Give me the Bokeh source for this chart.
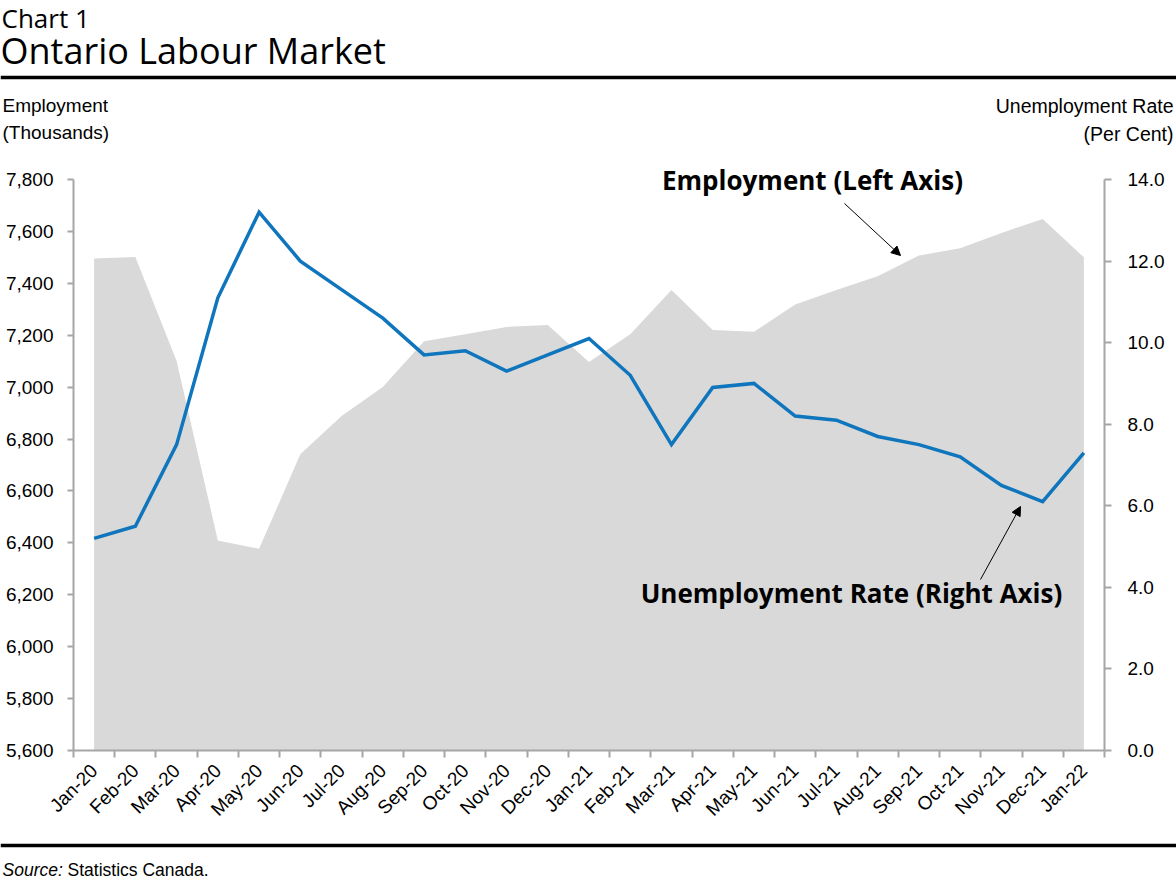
import math
from bokeh.plotting import figure
from bokeh.layouts import column
from bokeh.models import (Range1d, LinearAxis, FixedTicker, NumeralTickFormatter,
                          Label, Arrow, NormalHead, ColumnDataSource, Span)
from bokeh.embed import file_html
from bokeh.resources import INLINE

# ---------------- data ----------------
months = ["Jan-20", "Feb-20", "Mar-20", "Apr-20", "May-20", "Jun-20", "Jul-20",
          "Aug-20", "Sep-20", "Oct-20", "Nov-20", "Dec-20", "Jan-21", "Feb-21",
          "Mar-21", "Apr-21", "May-21", "Jun-21", "Jul-21", "Aug-21", "Sep-21",
          "Oct-21", "Nov-21", "Dec-21", "Jan-22"]
employment = [7496, 7501, 7101, 6409, 6377, 6741, 6889, 7001, 7177, 7204, 7232,
              7239, 7097, 7204, 7374, 7220, 7213, 7318, 7374, 7427, 7507, 7535,
              7594, 7648, 7500]
unemployment_rate = [5.2, 5.5, 7.5, 11.1, 13.2, 12.0, 11.3, 10.6, 9.7, 9.8, 9.3,
                     9.7, 10.1, 9.2, 7.5, 8.9, 9.0, 8.2, 8.1, 7.7, 7.5, 7.2, 6.5,
                     6.1, 7.3]
employment_ticks = [5600, 5800, 6000, 6200, 6400, 6600, 6800, 7000, 7200, 7400, 7600, 7800]
rate_ticks = [0, 2, 4, 6, 8, 10, 12, 14]

# ---------------- layout constants (canvas pixels) ----------------
W, H = 1176, 888
HEADER_H = 150           # header figure: canvas y 0..150
FOOTER_TOP = 835         # footer figure: canvas y 835..888
FL, FR = 73, 1104        # plot frame left/right
AX_TOP, AX_BOT = 179, 750  # axis extent top/bottom
GREY_AXIS = "#a6a6a6"
TICK_FONT = "Liberation Sans"
HEAD_FONT = "Open Sans"
BASELINE_FIX = 0.4       # empirical shift so that text sits on the wanted baseline
N = len(months)


def text_fig(height):
    f = figure(width=W, height=height, output_backend="svg", toolbar_location=None,
               x_range=Range1d(0, W), y_range=Range1d(height, 0),
               x_axis_type=None, y_axis_type=None, title=None, min_border=0,
               frame_align=False)
    f.outline_line_color = None
    f.xgrid.visible = False
    f.ygrid.visible = False
    f.background_fill_color = "white"
    f.border_fill_color = "white"
    return f


def add_label(f, x, y, text, font, size, align="left", style="normal", ymap=None):
    ycanvas = y - BASELINE_FIX * size
    yy = ymap(ycanvas) if ymap else ycanvas
    f.add_layout(Label(x=x, y=yy, text=text, text_font=font,
                       text_font_size=f"{size}px", text_align=align,
                       text_baseline="alphabetic", text_font_style=style,
                       text_color="black"))


# ---------------- header ----------------
header = text_fig(HEADER_H)
add_label(header, 1, 27.5, "Chart 1", HEAD_FONT, 26)
add_label(header, 0, 64, "Ontario Labour Market", HEAD_FONT, 36)
header.add_layout(Span(location=77, dimension="width", line_color="black", line_width=3.5))
add_label(header, 2, 112.5, "Employment", TICK_FONT, 19)
add_label(header, 2, 140, "(Thousands)", TICK_FONT, 19)
add_label(header, 1173, 113, "Unemployment Rate", TICK_FONT, 19.5, align="right")
add_label(header, 1173, 141, "(Per Cent)", TICK_FONT, 19.5, align="right")

# ---------------- main chart ----------------
MAIN_H = FOOTER_TOP - HEADER_H
px_per_emp = (AX_BOT - AX_TOP) / (employment_ticks[-1] - employment_ticks[0])
px_per_rate = (AX_BOT - AX_TOP) / (rate_ticks[-1] - rate_ticks[0])
extra_px = AX_TOP - HEADER_H   # frame extends above the axis top
emp_top = employment_ticks[-1] + extra_px / px_per_emp
rate_top = rate_ticks[-1] + extra_px / px_per_rate

idx = list(range(N))
src = ColumnDataSource(dict(x=idx, emp=employment, rate=unemployment_rate,
                            base=[employment_ticks[0]] * N))

p = figure(width=W, height=MAIN_H, output_backend="svg", toolbar_location=None,
           x_range=Range1d(-0.5, N - 0.5),
           y_range=Range1d(employment_ticks[0], emp_top),
           min_border_left=FL, min_border_right=W - FR,
           min_border_top=0, min_border_bottom=FOOTER_TOP - AX_BOT,
           x_axis_type=None, y_axis_type=None, title=None, frame_align=False)
p.outline_line_color = None
p.background_fill_color = "white"
p.border_fill_color = "white"
p.xgrid.visible = False
p.ygrid.visible = False
p.extra_y_ranges = {"rate": Range1d(rate_ticks[0], rate_top)}

p.varea(x="x", y1="base", y2="emp", source=src, fill_color="#d9d9d9")
p.line(x="x", y="rate", source=src, y_range_name="rate",
       line_color="#0f75bd", line_width=3.5, line_join="miter")


def style_axis(ax):
    ax.axis_line_color = GREY_AXIS
    ax.axis_line_width = 2
    ax.major_tick_line_color = GREY_AXIS
    ax.major_tick_line_width = 2
    ax.major_tick_in = 0
    ax.minor_tick_line_color = None
    ax.major_label_text_font = TICK_FONT
    ax.major_label_text_font_size = "19px"
    ax.major_label_text_color = "black"


yl = LinearAxis(ticker=FixedTicker(ticks=employment_ticks),
                formatter=NumeralTickFormatter(format="0,0"),
                bounds=(employment_ticks[0], employment_ticks[-1]))
style_axis(yl)
yl.major_tick_out = 6
yl.major_label_standoff = 14
p.add_layout(yl, "left")

yr = LinearAxis(y_range_name="rate", ticker=FixedTicker(ticks=rate_ticks),
                formatter=NumeralTickFormatter(format="0.0"),
                bounds=(rate_ticks[0], rate_ticks[-1]))
style_axis(yr)
yr.major_tick_out = 7
yr.major_label_standoff = 16
p.add_layout(yr, "right")

xb = LinearAxis(ticker=FixedTicker(ticks=idx, minor_ticks=[i - 0.5 for i in range(N + 1)]),
                major_label_overrides={i: m for i, m in enumerate(months)})
style_axis(xb)
xb.major_tick_line_color = None
xb.minor_tick_line_color = GREY_AXIS
xb.minor_tick_line_width = 2
xb.minor_tick_in = 0
xb.minor_tick_out = 7
xb.major_label_orientation = math.pi / 4
xb.major_label_standoff = 10
xb.major_label_text_font_size = "19px"
p.add_layout(xb, "below")


def dx(cx):
    return (cx - FL) / (FR - FL) * N - 0.5


def dy(cy):
    return employment_ticks[0] + (AX_BOT - cy) / px_per_emp


add_label(p, dx(812), 190, "Employment (Left Axis)", HEAD_FONT, 26,
          align="center", style="bold", ymap=dy)
add_label(p, dx(851), 603, "Unemployment Rate (Right Axis)", HEAD_FONT, 26,
          align="center", style="bold", ymap=dy)

head = dict(size=9, fill_color="black", line_color="black", line_width=1)
p.add_layout(Arrow(end=NormalHead(**head), x_start=dx(844), y_start=dy(203),
                   x_end=dx(900), y_end=dy(255), line_color="black", line_width=1))
p.add_layout(Arrow(end=NormalHead(**head), x_start=dx(980), y_start=dy(579),
                   x_end=dx(1020), y_end=dy(506), line_color="black", line_width=1))

# ---------------- footer ----------------
footer = text_fig(H - FOOTER_TOP)
footer.add_layout(Span(location=845 - FOOTER_TOP, dimension="width",
                       line_color="black", line_width=3.5))
add_label(footer, 2, 876 - FOOTER_TOP, "Source:", TICK_FONT, 17.5, style="italic")
add_label(footer, 67, 876 - FOOTER_TOP, "Statistics Canada.", TICK_FONT, 17.5)

layout = column(header, p, footer, spacing=0)
open("out.html", "w").write(file_html(layout, INLINE))
